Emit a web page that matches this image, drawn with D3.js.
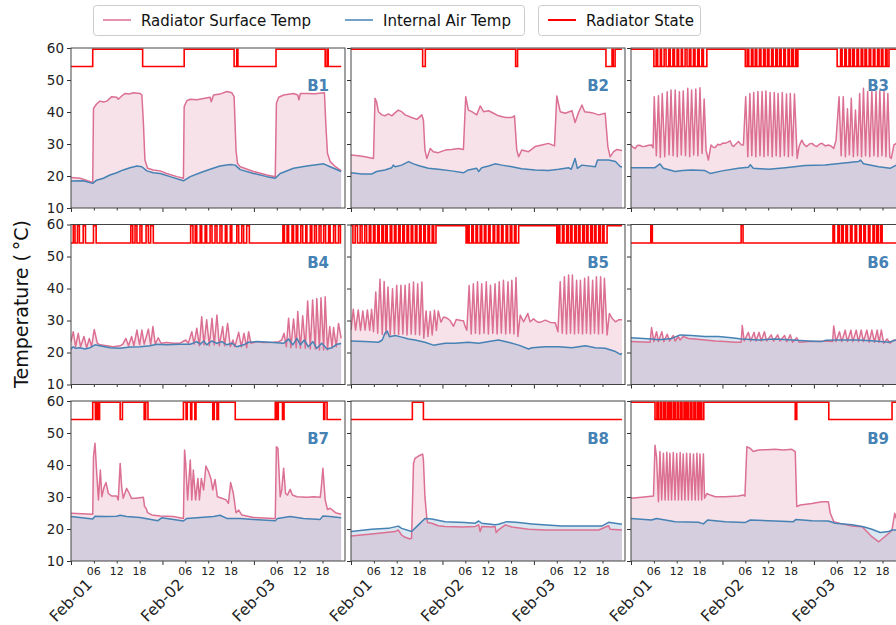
<!DOCTYPE html>
<html>
<head>
<meta charset="utf-8">
<script src="https://cdn.jsdelivr.net/npm/d3@7"></script>
<style>
  body { margin: 0; background: #fff; }
  svg { font-family: "DejaVu Sans", sans-serif; }
</style>
</head>
<body>
<svg id="chart" width="896" height="625"></svg>
<script>
// Series are [hours since Feb-01 00:00, °C]; radiator state is a list of [on, off] hour intervals.
const panelNames = ["B1", "B2", "B3", "B4", "B5", "B6", "B7", "B8", "B9"];
const seriesLabels = ["Radiator Surface Temp", "Internal Air Temp", "Radiator State"];
const yTicks = [10, 20, 30, 40, 50, 60];
const dayTicks = [0, 24, 48];
const hourTicks = [6, 12, 18, 30, 36, 42, 54, 60, 66];

const b1Surface = [[0,19.5],[2.4,19.3],[5.7,18.0],[5.9,41.1],[6.7,42.5],[7.6,43.4],[8.5,43.1],[9.4,43.4],[10.7,44.8],[12.0,44.6],[12.4,44.0],[13.3,45.0],[14.2,45.8],[15.3,45.6],[16.4,46.0],[18.1,45.8],[18.6,45.3],[19.0,36.5],[19.4,25.0],[20.1,22.4],[21.6,21.9],[23.4,21.6],[25.1,20.8],[27.8,19.8],[29.5,19.3],[29.7,41.7],[30.4,43.5],[31.3,44.0],[33.0,43.8],[34.8,44.2],[36.5,44.6],[36.8,43.2],[37.4,45.3],[39.1,45.6],[40.9,46.4],[42.2,46.0],[42.8,44.8],[43.3,28.1],[43.7,23.9],[44.4,22.9],[47.9,21.4],[51.4,20.3],[53.6,19.8],[53.9,42.7],[54.5,44.6],[55.8,45.3],[58.4,45.8],[59.5,45.3],[59.8,43.8],[60.2,45.8],[61.9,45.8],[64.0,45.7],[66.5,46.0],[66.9,35.4],[67.3,27.1],[68.0,24.5],[69.4,22.9],[70.9,21.6]];
const b1Air = [[0,18.4],[3.2,18.5],[5.7,17.7],[6.7,18.7],[8.5,19.3],[10.2,20.3],[12.0,21.0],[13.7,21.9],[15.5,22.6],[17.3,23.1],[18.6,22.9],[19.9,21.6],[21.6,21.0],[23.4,20.8],[26.0,19.8],[29.5,18.5],[31.3,19.8],[33.9,21.0],[36.5,22.1],[39.1,23.1],[41.8,23.6],[43.1,23.4],[44.4,22.0],[47.9,20.8],[51.4,19.8],[53.6,19.3],[54.9,20.8],[58.4,22.4],[61.9,23.1],[66.3,23.8],[68.0,22.9],[70.9,21.4]];
const b1State = [[5.7,18.8],[29.7,42.8],[43.5,43.8],[53.8,66.7],[67.2,67.5]];

const b2Surface = [[0,26.6],[1.9,26.3],[3.7,26.0],[5.9,25.5],[6.3,44.3],[6.7,43.2],[7.2,40.1],[8.1,39.1],[8.9,38.8],[9.8,39.4],[10.7,38.8],[11.6,39.8],[12.4,40.6],[13.3,40.1],[14.2,39.1],[15.9,38.3],[17.3,37.7],[18.6,39.1],[19.0,37.5],[19.4,28.1],[19.9,25.5],[20.8,28.6],[21.6,27.6],[22.9,27.3],[24.7,28.1],[26.4,28.3],[28.2,28.6],[29.5,28.3],[30.1,44.8],[30.8,40.6],[31.7,40.1],[33.0,39.1],[33.9,41.9],[34.8,40.1],[36.1,40.4],[37.4,39.6],[38.7,38.8],[40.5,38.3],[42.2,38.3],[42.9,38.8],[43.5,28.1],[44.0,26.0],[44.8,28.1],[46.6,27.6],[48.3,29.2],[50.1,29.7],[51.8,30.2],[53.4,29.4],[54.0,45.0],[54.9,40.1],[56.2,39.6],[58.0,40.4],[58.8,36.7],[59.7,39.8],[60.6,42.2],[61.3,40.1],[63.2,39.8],[65.0,39.1],[66.7,39.6],[67.4,29.2],[68.0,26.0],[68.9,27.6],[69.8,28.3],[71.1,28.0]];
const b2Air = [[0,21.0],[2.8,20.6],[5.4,20.6],[6.7,21.4],[8.9,21.9],[10.7,22.6],[11.1,23.4],[11.6,22.9],[13.3,23.4],[15.1,24.5],[16.4,23.8],[18.1,23.1],[20.3,22.4],[22.9,22.1],[26.4,21.6],[29.5,21.0],[30.8,21.9],[33.0,22.4],[33.5,21.4],[34.3,22.6],[36.1,23.1],[37.8,23.8],[39.6,23.4],[42.2,22.9],[44.8,22.3],[48.3,21.9],[51.8,21.7],[54.5,22.1],[57.1,22.6],[57.8,22.1],[58.8,25.5],[59.4,22.4],[60.6,23.4],[64.1,22.9],[64.7,25.0],[67.6,25.0],[69.4,24.5],[70.7,22.9],[71.1,22.9]];
const b2State = [[0,18.8],[19.5,43.2],[43.7,66.9],[68.5,68.8],[69.3,71.1]];

const b3Surface = [[0,29.7],[0.5,29.0],[1.1,28.6],[1.6,29.5],[2.3,29.6],[3.0,29.2],[3.7,29.3],[4.6,29.6],[5.4,29.7],[5.8,28.8],
  [6.1,44.8],[6.65,26.3],[7.2,45.1],[7.7,25.8],[8.2,45.8],[8.85,26.0],[9.5,46.3],[10.0,26.6],[10.5,46.9],[11.05,26.3],[11.6,46.9],[12.15,26.0],[12.7,46.3],[13.2,26.6],[13.7,46.6],[14.3,26.3],[14.9,47.4],[15.4,26.0],[15.9,46.9],[16.45,26.6],[17.0,47.2],[17.55,26.3],[18.1,47.6],[18.65,27.0],[19.2,44.1],[19.7,28.0],[20.3,25.0],
  [21.0,29.7],[21.6,29.0],[22.1,28.9],[22.8,29.9],[23.4,29.7],[24.1,30.3],[24.7,30.2],[25.4,30.6],[26.0,31.0],[26.5,29.6],[26.9,29.2],[27.6,30.1],[28.2,30.8],[28.9,29.8],[29.5,29.7],
  [30.1,44.8],[30.65,26.0],[31.2,45.8],[31.7,26.3],[32.2,46.1],[32.75,26.0],[33.3,46.4],[33.85,26.3],[34.4,46.4],[34.9,26.0],[35.4,46.6],[35.95,26.3],[36.5,46.1],[37.05,26.0],[37.6,46.1],[38.1,26.3],[38.6,45.8],[39.15,26.0],[39.7,46.1],[40.25,26.3],[40.8,45.6],[41.3,26.0],[41.8,45.8],[42.35,26.3],[42.9,45.6],[43.6,25.5],
  [44.1,29.2],[44.8,31.2],[45.4,29.9],[46.1,29.2],[46.8,30.0],[47.5,30.2],[48.2,29.5],[48.8,29.2],[49.5,30.0],[50.1,30.2],[51.0,29.4],[51.8,29.7],[52.5,29.4],[53.2,28.6],[53.8,31.2],
  [54.6,44.8],[55.15,26.3],[55.7,44.8],[56.25,26.0],[56.8,41.0],[57.3,26.6],[57.8,44.3],[58.35,26.0],[58.9,40.6],[59.45,26.3],[60.0,45.8],[60.5,26.0],[61.0,47.4],[61.55,26.3],[62.1,46.4],[62.65,26.0],[63.2,46.6],[63.75,26.3],[64.3,46.4],[64.8,26.0],[65.3,46.6],[65.85,26.3],[66.4,46.4],[66.9,26.0],[67.4,45.8],[67.9,26.0],[68.3,25.5],
  [69.0,29.7],[69.6,30.2],[70.3,29.5],[71.0,30.0]];
const b3Air = [[0,22.6],[6.3,22.6],[7.6,23.8],[8.5,22.4],[11.6,21.4],[13.5,21.7],[15.9,21.9],[19.4,21.7],[20.8,20.8],[23.9,21.6],[28.2,22.4],[30.8,22.7],[31.3,23.5],[32.1,22.4],[36.1,22.1],[40.5,22.6],[45.7,23.3],[50.9,23.4],[55.3,24.0],[59.7,24.5],[60.2,25.0],[61.0,23.8],[65.0,22.9],[68.0,22.4],[69.6,23.4],[71.0,23.4]];
const b3State = [[0,6.0],[6.6,7.0],[7.7,8.0],[8.7,9.2],[9.9,10.3],[11.0,11.4],[12.1,12.5],[13.2,13.5],[14.2,14.7],[15.3,15.7],[16.4,16.8],[17.5,17.9],[18.6,19.0],
  [19.9,30.0],[30.5,30.9],[31.6,32.0],[32.6,33.0],[33.7,34.1],[34.8,35.2],[35.8,36.2],[36.9,37.3],[38.0,38.4],[39.0,39.4],[40.1,40.5],[41.2,41.6],[42.2,42.6],[43.2,43.4],
  [43.8,54.1],[55.0,55.4],[56.1,56.5],[57.2,57.6],[58.2,58.6],[59.3,59.7],[60.4,60.8],[61.4,61.8],[62.5,62.9],[63.6,64.0],[64.7,65.1],[65.7,66.1],[66.8,67.2],[67.7,71.0]];

const b4Surface = [[0,23.4],[0.6,26.5],[1.2,21.8],[1.9,26.0],[2.5,21.8],[3.4,25.0],[4.1,21.5],[4.8,24.4],[5.4,21.8],[6.1,27.2],[6.9,22.9],[7.6,22.4],[9.4,22.1],[11.1,21.8],[12.9,22.1],[13.6,22.6],[14.4,24.4],[15.1,22.1],[15.9,25.0],[16.5,22.1],[17.3,27.0],[18.0,22.4],[18.6,27.0],[19.2,22.6],[20.3,27.3],[20.9,22.4],[21.5,28.1],[22.1,22.6],[22.9,24.6],[23.6,22.9],[25.1,23.1],[26.9,22.9],[28.6,22.9],[30.1,23.9],[30.8,22.9],[31.7,26.5],[32.3,22.6],[33.0,27.6],[33.7,22.1],[34.3,31.2],[34.9,22.4],[35.6,30.2],[36.3,22.1],[37.0,30.7],[37.6,22.4],[38.3,31.7],[38.9,22.1],[39.8,28.1],[40.3,22.1],[41.1,29.1],[41.8,21.8],[42.5,23.9],[43.0,21.8],[44.0,26.3],[44.7,21.8],[45.4,26.0],[46.1,21.5],[46.6,26.5],[47.2,22.9],[48.8,23.4],[50.5,23.1],[53.2,23.2],[54.5,23.4],[55.3,23.9],[55.9,26.0],[56.5,21.8],[57.1,30.7],[57.7,21.5],[58.4,30.5],[59.1,21.5],[59.5,32.8],[60.2,21.3],[60.8,31.5],[61.5,21.3],[62.1,36.1],[62.8,21.1],[63.4,36.4],[64.1,21.1],[64.5,36.9],[65.2,20.8],[65.6,37.1],[66.3,20.8],[66.7,37.4],[67.3,20.8],[67.9,28.1],[68.5,21.5],[68.9,27.8],[69.6,21.8],[70.2,29.1],[70.9,24.4]];
const b4Air = [[0,21.1],[0.6,21.8],[1.2,21.3],[2.3,21.5],[3.7,21.1],[5.0,21.5],[6.3,22.4],[7.6,22.1],[10.2,21.5],[12.9,21.3],[15.5,21.7],[18.1,21.8],[20.8,22.1],[22.5,22.6],[25.1,22.4],[28.6,22.6],[31.3,22.6],[33.0,23.4],[33.9,22.6],[34.8,23.6],[35.6,22.4],[36.9,23.6],[38.3,22.9],[39.6,23.4],[40.9,22.4],[42.2,22.9],[43.5,21.8],[45.3,22.4],[46.6,23.2],[48.8,23.4],[53.2,23.1],[55.8,22.9],[57.1,24.2],[58.2,22.4],[59.3,24.4],[60.2,22.4],[61.2,23.9],[62.3,21.8],[63.5,23.4],[64.5,21.3],[65.8,22.9],[67.2,21.1],[68.5,21.5],[69.8,22.6],[70.9,22.8]];
const b4State = [[0.6,1.05],[1.7,2.2],[3.2,3.8],[5.9,6.6],[15.7,16.2],[16.8,17.3],[18.1,18.6],[19.7,20.3],[20.9,21.6],[31.4,32.0],[32.6,33.0],[33.9,34.3],[35.2,35.6],[36.5,37.0],[37.8,38.3],[39.1,39.6],[40.5,40.9],[41.8,42.2],[43.5,44.0],[44.8,45.3],[46.1,46.8],[55.6,56.0],[56.7,57.1],[58.0,58.4],[59.1,59.5],[60.3,60.8],[61.6,61.9],[62.8,63.2],[63.9,64.4],[65.1,65.6],[66.3,66.8],[67.6,68.0],[68.9,69.4],[70.2,70.7]];

const b5Surface = [[0,27.0],[0.6,33.5],[1.2,27.0],[1.9,33.3],[2.5,26.9],[3.1,33.0],[3.7,27.0],[4.3,33.3],[4.9,26.9],[5.4,33.5],[5.9,26.5],[6.5,38.9],[7.0,26.0],[7.6,42.9],[8.2,25.6],[8.7,42.2],[9.2,25.8],[9.7,40.5],[10.3,25.5],[10.9,39.9],[11.4,25.8],[12.0,41.0],[12.5,25.6],[13.1,41.0],[13.6,25.8],[14.2,41.0],[14.7,25.5],[15.3,41.5],[15.8,25.8],[16.4,42.0],[16.9,25.6],[17.5,41.5],[18.0,25.5],[18.6,42.0],[19.1,24.5],[19.7,33.0],[20.2,25.0],[20.8,32.8],[21.3,25.5],[21.9,33.2],[22.4,26.9],[22.9,33.0],[23.6,29.5],[24.3,31.1],[25.1,30.8],[26.0,30.0],[26.9,28.2],[27.6,30.3],[28.9,30.0],[29.5,29.9],
  [30.0,28.0],[30.4,27.0],[31.0,40.9],[31.55,25.8],[32.1,41.5],[32.65,26.0],[33.2,42.1],[33.75,25.8],[34.3,41.5],[34.9,26.0],[35.5,42.1],[36.05,25.8],[36.6,41.0],[37.2,26.0],[37.8,41.5],[38.35,25.8],[38.9,42.1],[39.45,26.0],[40.0,42.6],[40.6,25.8],[41.2,42.1],[41.7,26.0],[42.2,42.6],[42.75,25.8],[43.3,43.4],[43.8,25.0],
  [44.4,31.7],[45.3,29.6],[46.4,32.2],[47.0,29.6],[47.9,30.5],[48.8,29.6],[49.6,29.4],[51.0,30.1],[52.3,29.4],[53.6,29.3],[54.3,26.5],
  [54.9,42.1],[55.45,26.0],[56.0,43.7],[56.55,25.8],[57.1,44.2],[57.6,26.0],[58.1,44.2],[58.65,25.8],[59.2,42.6],[59.7,26.0],[60.2,42.6],[60.75,25.8],[61.3,43.2],[61.8,26.0],[62.3,43.7],[62.85,25.8],[63.4,42.6],[63.9,26.0],[64.4,43.7],[64.95,25.8],[65.5,43.7],[66.0,26.0],[66.5,43.2],[67.2,25.5],
  [67.8,32.2],[68.5,30.7],[69.4,29.6],[70.2,30.2],[71.1,30.2]];
const b5Air = [[0,23.6],[3.7,23.4],[7.2,23.2],[8.2,23.9],[8.9,26.0],[9.5,26.7],[10.1,24.9],[11.6,25.3],[13.3,24.8],[15.1,24.2],[16.8,23.9],[19.4,23.2],[21.6,22.3],[24.7,22.9],[27.3,22.9],[30.8,23.2],[33.5,22.9],[37.0,23.6],[38.7,23.9],[41.3,23.2],[44.0,22.3],[46.6,21.1],[47.5,21.5],[51.0,21.8],[54.5,21.8],[58.0,21.5],[61.5,22.1],[64.1,21.5],[66.7,21.3],[69.4,20.3],[70.7,19.4],[71.1,19.7]];
const b5State = [[0,0.5],[1.1,1.7],[2.4,2.9],[3.6,4.1],[4.8,5.2],[5.9,6.3],[7.0,7.4],[8.1,8.5],[9.1,9.5],[10.3,10.7],[11.4,11.8],[12.5,12.9],[13.6,14.0],[14.7,15.1],[15.8,16.2],[16.9,17.3],[18.0,18.4],[19.1,19.5],[20.2,20.6],[21.3,21.7],
  [22.3,30.2],[30.6,31.0],[31.7,32.1],[32.8,33.2],[33.9,34.3],[35.0,35.4],[36.1,36.5],[37.3,37.7],[38.4,38.8],[39.5,39.9],[40.7,41.1],[41.8,42.2],[42.9,43.3],
  [44.0,54.0],[54.4,54.8],[55.5,55.9],[56.6,57.0],[57.6,58.0],[58.7,59.1],[59.7,60.1],[60.8,61.2],[61.8,62.2],[62.9,63.3],[63.9,64.3],[65.0,65.4],[66.0,66.4],[67.2,71.1]];

const b6Surface = [[0,23.4],[5.0,23.2],[5.4,27.8],[6.0,23.4],[6.7,26.5],[7.2,23.4],[8.1,26.5],[8.6,23.4],[9.5,25.7],[10.1,23.6],[11.1,25.3],[11.6,23.6],[12.4,25.0],[12.9,23.9],[13.7,25.0],[15.1,24.4],[16.8,24.2],[19.4,23.9],[22.1,23.6],[24.7,23.4],[27.3,23.2],[28.9,23.2],[29.2,28.4],[29.7,23.6],[30.8,26.3],[31.4,23.6],[32.3,26.3],[32.8,23.6],[33.6,26.3],[34.2,23.6],[35.0,26.5],[35.6,23.6],[36.8,25.5],[37.4,23.6],[38.5,25.5],[39.1,23.6],[40.3,25.3],[40.9,23.4],[41.8,25.5],[42.4,23.2],[43.5,24.6],[44.1,23.2],[46.6,23.4],[49.2,23.4],[51.0,23.6],[52.9,23.4],[53.2,28.3],[53.8,23.4],[54.7,26.5],[55.3,23.4],[56.2,27.0],[56.8,23.4],[57.7,27.0],[58.2,23.4],[59.1,27.0],[59.7,23.4],[60.4,27.0],[61.0,23.4],[61.9,27.0],[62.5,23.2],[63.2,27.0],[63.9,23.2],[64.6,27.0],[65.1,23.2],[65.7,27.0],[66.3,22.9],[67.2,24.2],[68.0,22.9],[68.9,23.9],[69.6,23.7],[71.0,23.5]];
const b6Air = [[0,24.6],[5.4,24.2],[7.2,24.0],[10.7,24.4],[12.9,25.5],[15.9,25.3],[19.4,25.0],[22.9,25.0],[26.4,24.6],[29.1,24.2],[33.5,23.9],[37.8,24.2],[42.2,23.9],[46.6,23.6],[50.1,23.4],[51.0,23.8],[55.3,23.9],[59.7,23.9],[64.1,23.6],[67.6,23.2],[69.6,23.9],[71.0,23.8]];
const b6State = [[5.2,5.6],[28.9,29.4],[53.0,53.4],[54.3,54.7],[55.3,55.7],[56.4,56.8],[57.6,58.0],[58.8,59.2],[60.0,60.4],[61.1,61.5],[62.3,62.7],[63.5,63.9],[64.5,64.9],[65.5,65.9]];

const b7Surface = [[0,24.9],[5.7,24.6],[5.9,42.6],[6.3,46.8],[6.7,38.4],[7.2,29.1],[7.7,38.4],[8.1,30.1],[8.7,33.2],[9.2,34.5],[9.8,31.1],[10.7,30.3],[12.0,30.3],[12.4,29.1],[12.9,40.5],[13.3,33.2],[13.7,29.6],[14.6,32.7],[15.3,31.1],[15.9,29.5],[18.1,29.8],[19.0,29.9],[19.3,27.0],[19.7,26.5],[20.1,25.1],[21.2,24.4],[23.4,24.1],[26.9,23.9],[29.5,23.3],[29.8,44.7],[30.1,40.5],[30.6,29.1],[31.3,41.6],[31.7,29.1],[32.1,38.4],[32.7,29.1],[33.3,35.8],[33.7,29.1],[34.2,35.8],[34.8,32.2],[35.4,39.7],[36.1,37.9],[36.7,35.8],[37.2,32.2],[37.8,35.5],[38.4,30.1],[39.6,29.6],[40.7,29.1],[41.3,28.0],[41.9,34.5],[42.6,31.1],[43.3,25.1],[44.0,25.9],[44.8,24.4],[47.9,23.6],[53.2,23.3],[53.6,23.3],[53.9,45.7],[54.3,45.2],[54.9,30.1],[55.3,32.2],[55.8,39.0],[56.3,31.1],[56.8,30.6],[57.5,32.4],[58.1,30.6],[59.3,30.1],[61.9,29.9],[63.7,30.1],[65.4,29.9],[65.7,33.2],[66.1,39.0],[66.7,29.1],[67.3,26.1],[68.0,26.5],[69.4,25.1],[70.9,24.6]];
const b7Air = [[0,23.9],[5.7,23.1],[6.3,24.0],[9.4,23.9],[12.0,24.0],[12.9,24.3],[14.6,23.9],[18.1,23.6],[21.0,23.0],[22.8,22.6],[23.8,23.5],[26.9,23.0],[29.5,22.5],[30.4,23.3],[33.9,23.6],[37.4,23.9],[39.1,24.3],[40.9,23.3],[44.4,23.3],[47.9,23.0],[53.6,22.6],[54.2,23.3],[57.5,23.9],[61.0,23.3],[65.4,23.0],[66.1,24.1],[68.0,23.9],[70.9,23.5]];
const b7State = [[5.7,6.4],[6.7,7.1],[7.5,12.9],[13.5,19.2],[19.6,20.2],[29.5,30.2],[30.5,31.4],[31.7,32.5],[32.8,37.2],[37.6,38.3],[38.7,43.1],[53.6,54.0],[54.4,55.5],[55.9,66.3],[66.6,67.2]];

const b8Surface = [[0,17.8],[5.4,18.4],[11.6,19.2],[12.4,19.7],[13.3,18.1],[14.2,17.4],[15.5,16.9],[15.9,17.1],[16.4,40.5],[16.8,42.1],[17.7,42.8],[18.8,43.4],[19.0,41.6],[19.4,30.1],[19.9,23.3],[20.1,22.0],[21.2,21.8],[22.9,21.0],[24.7,20.8],[29.1,20.6],[32.6,20.8],[33.5,21.3],[33.9,19.2],[34.3,20.8],[37.0,20.6],[37.8,20.8],[38.1,18.9],[38.7,19.7],[40.5,21.3],[42.2,20.6],[46.6,19.9],[51.0,19.7],[59.7,19.7],[65.0,19.7],[67.6,21.0],[68.0,19.9],[71.1,19.7]];
const b8Air = [[0,19.2],[5.4,19.9],[9.8,20.2],[12.4,20.9],[13.3,20.2],[15.9,19.2],[17.7,21.3],[19.4,23.3],[21.2,23.1],[24.7,22.3],[29.9,22.0],[32.6,21.8],[33.5,22.5],[34.3,21.8],[37.8,21.3],[38.7,21.5],[40.9,22.3],[44.0,22.0],[47.5,21.6],[55.3,20.9],[59.7,20.9],[65.8,20.9],[67.6,22.1],[71.1,21.5]];
const b8State = [[16.1,19.0]];

const b9Surface = [[0,29.6],[2.8,29.9],[5.9,30.3],[6.3,46.2],[6.7,42.6],[7.2,28.5],[7.6,44.2],[8.05,29.1],[8.5,43.7],[8.95,29.1],[9.4,44.0],[9.8,29.1],[10.2,43.7],[10.65,29.1],[11.1,43.9],[11.55,29.1],[12.0,43.6],[12.45,29.1],[12.9,43.9],[13.3,29.1],[13.7,43.4],[14.15,29.1],[14.6,43.7],[15.05,29.1],[15.5,43.6],[15.95,29.1],[16.4,43.4],[16.85,29.1],[17.3,43.7],[17.7,29.1],[18.1,43.4],[18.55,29.1],[19.0,43.4],[19.3,29.6],[19.9,31.1],[20.8,30.6],[22.1,30.1],[24.7,30.1],[28.2,30.3],[29.5,30.6],[29.9,30.3],[30.4,45.7],[31.3,45.2],[32.1,44.2],[33.5,44.7],[35.5,44.8],[37.8,44.9],[40.0,44.7],[42.2,44.9],[43.1,44.2],[43.5,27.0],[44.4,27.5],[47.5,28.0],[50.1,28.5],[51.8,28.5],[52.3,24.9],[53.2,22.3],[55.3,21.6],[58.0,20.9],[60.6,20.7],[61.5,19.7],[63.2,17.6],[65.0,16.0],[65.8,16.8],[67.6,18.6],[68.5,19.7],[69.2,24.9],[69.6,23.3],[71.0,22.5]];
const b9Air = [[0,23.3],[5.4,22.8],[6.7,23.3],[11.6,22.3],[17.7,22.1],[19.0,21.6],[20.1,22.8],[24.7,22.3],[29.9,22.0],[31.3,22.8],[37.8,22.5],[42.6,22.3],[43.3,23.0],[47.5,22.6],[51.8,22.5],[53.6,21.8],[58.0,21.3],[61.0,20.7],[63.2,19.9],[65.4,18.9],[67.6,19.2],[68.5,19.7],[69.6,19.7],[71.0,19.8]];
const b9State = [[0,6.3],[6.8,7.2],[7.7,8.1],[8.6,9.0],[9.5,9.9],[10.3,10.7],[11.2,11.6],[12.1,12.5],[13.0,13.4],[13.9,14.3],[14.7,15.1],[15.6,16.0],[16.5,16.9],[17.4,17.8],[18.2,18.6],[19.1,43.1],[43.5,51.9],[68.5,71.0]];

const surfaceSeries = [b1Surface, b2Surface, b3Surface, b4Surface, b5Surface, b6Surface, b7Surface, b8Surface, b9Surface];
const airSeries = [b1Air, b2Air, b3Air, b4Air, b5Air, b6Air, b7Air, b8Air, b9Air];
const stateSeries = [b1State, b2State, b3State, b4State, b5State, b6State, b7State, b8State, b9State];

// Radiator state is drawn on the temperature axis at these two levels.
const STATE_OFF = 54.2, STATE_ON = 59.6;

const colSurface = "palevioletred", colAir = "steelblue", colState = "red";
const colLefts = [71, 351, 631], rowTops = [48, 224.5, 401];
const PW = 274, PH = 160;

const t0 = new Date(2021, 1, 1, 0, 0, 0);
const toDate = h => new Date(t0.getTime() + h * 3600e3);
const x = d3.scaleTime().domain([t0, toDate(71.9)]).range([0, PW]);
const y = d3.scaleLinear().domain([10, 60]).range([PH, 0]);
const fmtDay = d3.timeFormat("%b-%d"), fmtHour = d3.timeFormat("%H");

const svg = d3.select("#chart");
const defs = svg.append("defs");
defs.append("clipPath").attr("id", "panel-clip")
  .append("rect").attr("width", PW).attr("height", PH);

// Turn [on, off] intervals into a stepped 0/1 series that runs to the end of the record.
function stepPoints(intervals, end) {
  const pts = [];
  if (!intervals.length || intervals[0][0] > 0) pts.push([0, 0]);
  intervals.forEach(([a, b]) => {
    if (a > 0) pts.push([a, 0]);
    pts.push([a, 1], [b, 1]);
    if (b < end) pts.push([b, 0]);
  });
  const last = pts[pts.length - 1];
  if (last[0] < end) pts.push([end, last[1]]);
  return pts;
}

const area = d3.area().x(d => x(toDate(d[0]))).y0(PH).y1(d => y(d[1]));
const line = d3.line().x(d => x(toDate(d[0]))).y(d => y(d[1]));
const stateLine = d3.line().x(d => x(toDate(d[0]))).y(d => y(d[1] ? STATE_ON : STATE_OFF));

panelNames.forEach((name, i) => {
  const col = i % 3, row = Math.floor(i / 3);
  const g = svg.append("g").attr("transform", `translate(${colLefts[col]},${rowTops[row]})`);
  const surf = surfaceSeries[i], air = airSeries[i];
  const end = surf[surf.length - 1][0];

  const plot = g.append("g").attr("clip-path", "url(#panel-clip)");
  plot.append("path").datum(surf).attr("d", area).attr("fill", colSurface).attr("fill-opacity", 0.2);
  plot.append("path").datum(air).attr("d", area).attr("fill", colAir).attr("fill-opacity", 0.2);
  plot.append("path").datum(surf).attr("d", line).attr("fill", "none")
    .attr("stroke", colSurface).attr("stroke-width", 1.5).attr("stroke-linejoin", "round");
  plot.append("path").datum(air).attr("d", line).attr("fill", "none")
    .attr("stroke", colAir).attr("stroke-width", 1.5).attr("stroke-linejoin", "round");
  plot.append("path").datum(stepPoints(stateSeries[i], end)).attr("d", stateLine).attr("fill", "none")
    .attr("stroke", colState).attr("stroke-width", 1.6);

  // y axis: tick marks everywhere, numbers on the first column only
  const yAxis = d3.axisLeft(y).tickValues(yTicks).tickSize(4).tickPadding(3)
    .tickFormat(col === 0 ? d3.format("d") : () => "");
  const ya = g.append("g").call(yAxis);
  ya.select(".domain").remove();
  ya.selectAll("line").attr("stroke", "#333");
  ya.selectAll("text").attr("font-size", 13.5).attr("fill", "#222")
    .attr("font-family", "DejaVu Sans, sans-serif");

  // x axis: day ticks and 6-hourly minor ticks
  const xa = g.append("g").attr("transform", `translate(0,${PH})`)
    .call(d3.axisBottom(x).tickValues(dayTicks.map(toDate)).tickSize(4).tickFormat(() => ""));
  xa.select(".domain").remove();
  xa.selectAll("line").attr("stroke", "#333");
  const xm = g.append("g").attr("transform", `translate(0,${PH})`)
    .call(d3.axisBottom(x).tickValues(hourTicks.map(toDate)).tickSize(2.5).tickFormat(() => ""));
  xm.select(".domain").remove();
  xm.selectAll("line").attr("stroke", "#333");

  if (row === 2) {
    g.append("g").selectAll("text").data(hourTicks).join("text")
      .attr("x", d => x(toDate(d))).attr("y", PH + 13.5)
      .attr("text-anchor", "middle").attr("font-size", 11).attr("fill", "#222")
      .text(d => fmtHour(toDate(d)));
    g.append("g").selectAll("text").data(dayTicks).join("text")
      .attr("transform", d => `translate(${x(toDate(d))},${PH + 39.5}) rotate(-45)`)
      .attr("text-anchor", "middle").attr("dominant-baseline", "central")
      .attr("font-size", 15.5).attr("fill", "#222")
      .text(d => fmtDay(toDate(d)));
  }

  g.append("rect").attr("width", PW).attr("height", PH)
    .attr("fill", "none").attr("stroke", "#444").attr("stroke-width", 1);

  g.append("text").attr("x", PW - 16).attr("y", 43).attr("text-anchor", "end")
    .attr("font-size", 15).attr("font-weight", "bold").attr("fill", colAir).text(name);
});

// y-axis title
svg.append("text")
  .attr("transform", "translate(21,304) rotate(-90)")
  .attr("text-anchor", "middle").attr("dominant-baseline", "central")
  .attr("font-size", 19).attr("fill", "#111")
  .text("Temperature (\u2009°C)");

// legends: temperatures in one frame, radiator state in another
function legend(items, x0, width) {
  const lg = svg.append("g");
  lg.append("rect").attr("x", x0 + 0.5).attr("y", 5.5).attr("width", width).attr("height", 30)
    .attr("rx", 3).attr("fill", "#fff").attr("fill-opacity", 0.8).attr("stroke", "#ccc");
  items.forEach(it => {
    lg.append("line").attr("x1", it.x).attr("x2", it.x + 28).attr("y1", 20).attr("y2", 20)
      .attr("stroke", it.color).attr("stroke-width", it.width);
    lg.append("text").attr("x", it.x + 38).attr("y", 25.5).attr("font-size", 15).attr("fill", "#111")
      .text(it.label);
  });
}
legend([
  { x: 103, color: colSurface, width: 1.5, label: seriesLabels[0] },
  { x: 345, color: colAir, width: 1.5, label: seriesLabels[1] }
], 93, 431);
legend([{ x: 548, color: colState, width: 2, label: seriesLabels[2] }], 538, 162);
</script>
</body>
</html>
